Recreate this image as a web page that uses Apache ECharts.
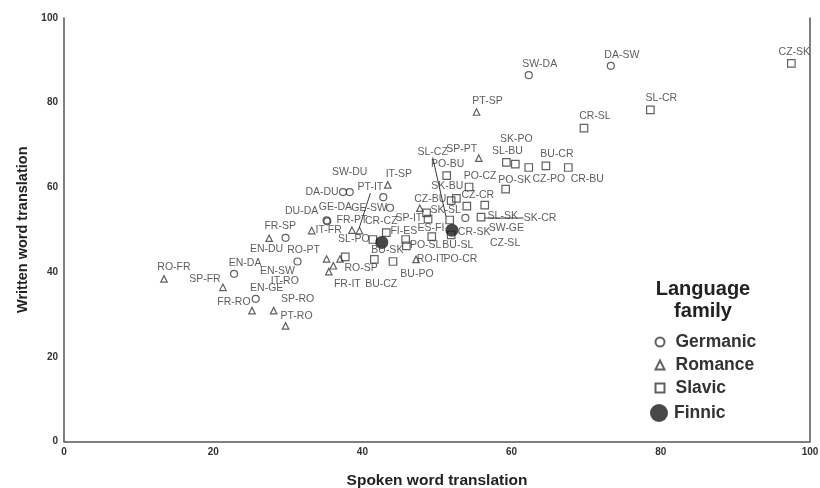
<!DOCTYPE html>
<html>
<head>
<meta charset="utf-8">
<script src="https://cdn.jsdelivr.net/npm/echarts@6.0.0/dist/echarts.min.js"></script>
<style>
  html, body { margin: 0; background: #fff; }
  #chart { width: 820px; height: 488px; }
</style>
</head>
<body>
<div id="chart"></div>
<script>
// language pairs (listener-language) per family, spoken vs written scores
var germanicPairs = ['SW-DA', 'DA-SW', 'EN-DA', 'EN-GE', 'EN-DU', 'EN-SW', 'DU-DA', 'GE-DA', 'DA-DU', 'SW-DU', '', 'GE-SW', 'SW-GE'];
var germanicSpoken = [62.3, 73.3, 22.8, 25.7, 29.7, 31.3, 35.2, 35.3, 37.4, 38.3, 42.8, 43.7, 53.8];
var germanicWritten = [86.5, 88.7, 39.6, 33.7, 48.1, 42.5, 52.2, 52.0, 58.9, 58.9, 57.7, 55.2, 52.8];

var romancePairs = ['RO-FR', 'SP-FR', 'FR-SP', 'FR-RO', 'SP-RO', 'PT-RO', 'RO-PT', 'IT-RO', 'FR-IT', 'RO-SP', 'IT-FR', 'FR-PT', 'PT-IT', 'IT-SP', 'SP-IT', 'RO-IT', 'SP-PT', 'PT-SP'];
var romanceSpoken = [13.4, 21.3, 27.5, 25.2, 28.1, 29.7, 35.2, 35.5, 36.1, 37.0, 33.2, 38.6, 39.6, 43.4, 47.7, 47.2, 55.6, 55.3];
var romanceWritten = [38.4, 36.4, 48.0, 30.9, 30.9, 27.3, 43.1, 40.1, 41.5, 43.1, 49.8, 49.9, 49.8, 60.6, 55.1, 43.0, 66.9, 77.8];

var slavicPairs = ['BU-CZ', 'BU-SK', 'BU-PO', 'SL-PO', 'CR-CZ', 'PO-SL', 'PO-CR', 'SK-SL', 'CZ-SL', 'BU-SL', 'SL-CZ', 'CR-SK', 'CZ-BU', 'SK-BU', 'PO-BU', 'PO-CZ', 'CZ-CR', 'SL-SK', 'SK-CR', 'PO-SK', 'SL-BU', 'SK-PO', 'CZ-PO', 'BU-CR', 'CR-BU', 'CR-SL', 'SL-CR', 'CZ-SK'];
var slavicSpoken = [37.7, 41.6, 44.1, 41.4, 43.2, 45.8, 45.9, 48.6, 48.8, 49.3, 51.7, 51.9, 51.9, 52.6, 51.3, 54.3, 54.0, 56.4, 55.9, 59.2, 59.3, 60.5, 62.3, 64.6, 67.6, 69.7, 78.6, 97.5];
var slavicWritten = [43.6, 43.0, 42.5, 47.7, 49.3, 47.7, 46.2, 54.0, 52.5, 48.4, 52.3, 48.8, 56.9, 57.4, 62.8, 60.1, 55.6, 55.8, 53.0, 59.6, 65.9, 65.5, 64.7, 65.1, 64.7, 74.0, 78.3, 89.3];

var finnicPairs = ['FI-ES', 'ES-FI'];
var finnicSpoken = [42.6, 52.0];
var finnicWritten = [47.0, 49.9];

var axisTicks = [0, 20, 40, 60, 80, 100];

// where each point label sits (px from the marker), like the SPSS layout
var labelOffset = {
  'SW-DA': [11, -11], 'DA-SW': [11, -11], 'EN-DA': [11, -11], 'EN-GE': [11, -11],
  'EN-DU': [-19, 11], 'EN-SW': [-20, 10], 'DU-DA': [-25, -9], 'GE-DA': [8, -14],
  'DA-DU': [-21, 0], 'SW-DU': [0, -20], 'GE-SW': [-21, 0], 'SW-GE': [41, 10],
  'RO-FR': [10, -12], 'SP-FR': [-18, -8], 'FR-SP': [11, -12], 'FR-RO': [-18, -9],
  'SP-RO': [24, -12], 'PT-RO': [11, -10], 'RO-PT': [-23, -9], 'IT-RO': [-44, 9],
  'FR-IT': [14, 18], 'RO-SP': [21, 9], 'IT-FR': [17, 0], 'FR-PT': [0, -10],
  'PT-IT': [11, -43], 'IT-SP': [11, -11], 'SP-IT': [-11, 10], 'RO-IT': [15, 0],
  'SP-PT': [-17, -9], 'PT-SP': [11, -11],
  'FI-ES': [22, -11], 'ES-FI': [-21, -2],
  'BU-CZ': [36, 27], 'BU-SK': [13, -9], 'BU-PO': [24, 13], 'SL-PO': [-19, 0],
  'CR-CZ': [-5, -12], 'PO-SL': [20, 6], 'PO-CR': [54, 13], 'SK-SL': [19, -3],
  'CZ-SL': [77, 24], 'BU-SL': [26, 9], 'SL-CZ': [-17, -68], 'CR-SK': [23, -3],
  'CZ-BU': [-21, -1], 'SK-BU': [-9, -12], 'PO-BU': [1, -11], 'PO-CZ': [11, -11],
  'CZ-CR': [11, -11], 'SL-SK': [18, 11], 'SK-CR': [59, 1], 'PO-SK': [9, -9],
  'SL-BU': [1, -11], 'SK-PO': [1, -25], 'CZ-PO': [20, 12], 'BU-CR': [11, -12],
  'CR-BU': [19, 12], 'CR-SL': [11, -12], 'SL-CR': [11, -12], 'CZ-SK': [3, -11]
};
var leaderLines = ['PT-IT', 'SL-CZ', 'SK-CR'];

var ink = '#3a3a3a';
var font = '"Liberation Sans", Arial, sans-serif';

function makeData(pairs, spoken, written) {
  return pairs.map(function (p, i) {
    var item = { name: p, value: [spoken[i], written[i]] };
    if (leaderLines.indexOf(p) >= 0) {
      item.labelLine = { show: true };
    }
    return item;
  });
}

function moveLabel(params) {
  var off = labelOffset[params.text];
  if (!off) return {};
  return { dx: off[0], dy: off[1] };
}

function familySeries(name, symbol, size, pairs, spoken, written) {
  return {
    type: 'scatter',
    name: name,
    symbol: symbol,
    symbolSize: size,
    itemStyle: { color: 'rgba(0,0,0,0)', borderColor: ink, borderWidth: 1.2 },
    label: {
      show: true,
      position: 'inside',
      formatter: '{b}',
      color: '#333',
      fontSize: 10.5,
      fontFamily: font,
      textBorderWidth: 0
    },
    labelLayout: moveLabel,
    labelLine: { show: false, lineStyle: { color: ink, width: 1 } },
    emphasis: { disabled: true },
    silent: true,
    data: makeData(pairs, spoken, written)
  };
}

var legendText = { fontSize: 17.5, fontWeight: 'bold', color: '#333', fontFamily: font };

var chart = echarts.init(document.getElementById('chart'), null, { renderer: 'canvas' });

var option = {
  animation: false,
  backgroundColor: '#fff',
  grid: { left: 64, right: 10, top: 18, bottom: 46.5, outerBoundsMode: 'none', containLabel: false },
  graphic: [{
    type: 'text',
    x: 703,
    y: 278,
    style: {
      text: 'Language\nfamily',
      align: 'center',
      verticalAlign: 'top',
      fill: '#222',
      font: 'bold 20px ' + font,
      lineHeight: 22
    }
  }],
  legend: [{
    data: ['Germanic', 'Romance', 'Slavic'],
    orient: 'vertical',
    left: 654.5,
    top: 333,
    padding: 0,
    itemWidth: 9,
    itemHeight: 9,
    itemGap: 5,
    selectedMode: false,
    textStyle: Object.assign({ padding: [0, 0, 0, 6] }, legendText)
  }, {
    data: ['Finnic'],
    orient: 'vertical',
    left: 650,
    top: 404,
    padding: 0,
    itemWidth: 18,
    itemHeight: 18,
    selectedMode: false,
    textStyle: Object.assign({ padding: [0, 0, 0, 1] }, legendText)
  }],
  xAxis: {
    type: 'value',
    min: 0,
    max: 100,
    interval: 20,
    name: 'Spoken word translation',
    nameLocation: 'middle',
    nameGap: 31,
    nameTextStyle: { fontSize: 15.5, fontWeight: 'bold', color: '#222', fontFamily: font },
    axisLine: { lineStyle: { color: '#555', width: 1.5 } },
    axisTick: { show: false },
    splitLine: { show: false },
    axisLabel: {
      margin: 6,
      fontSize: 10,
      fontWeight: 'bold',
      color: '#333',
      fontFamily: font,
      formatter: function (v) { return axisTicks.indexOf(v) >= 0 ? String(v) : ''; }
    }
  },
  yAxis: [{
    type: 'value',
    min: 0,
    max: 100,
    interval: 20,
    name: 'Written word translation',
    nameLocation: 'middle',
    nameGap: 34,
    nameTextStyle: { fontSize: 14.5, fontWeight: 'bold', color: '#222', fontFamily: font },
    axisLine: { show: true, lineStyle: { color: '#555', width: 1.5 } },
    axisTick: { show: false },
    splitLine: { show: false },
    axisLabel: { margin: 6, fontSize: 10, fontWeight: 'bold', color: '#333', fontFamily: font }
  }, {
    type: 'value',
    position: 'right',
    min: 0,
    max: 100,
    interval: 20,
    axisLine: { show: true, lineStyle: { color: '#555', width: 1.5 } },
    axisTick: { show: false },
    axisLabel: { show: false },
    splitLine: { show: false }
  }],
  series: [
    familySeries('Germanic', 'circle', 7, germanicPairs, germanicSpoken, germanicWritten),
    familySeries('Romance', 'triangle', 6.5, romancePairs, romanceSpoken, romanceWritten),
    familySeries('Slavic', 'rect', 7.5, slavicPairs, slavicSpoken, slavicWritten),
    {
      type: 'scatter',
      name: 'Finnic',
      symbol: 'circle',
      symbolSize: 13,
      itemStyle: { color: '#1a1a1a' },
      label: {
        show: true,
        position: 'inside',
        formatter: '{b}',
        color: '#333',
        fontSize: 10.5,
        fontFamily: font,
        textBorderWidth: 0
      },
      labelLayout: moveLabel,
      emphasis: { disabled: true },
      silent: true,
      data: makeData(finnicPairs, finnicSpoken, finnicWritten)
    }
  ]
};

chart.setOption(option);
</script>
</body>
</html>
